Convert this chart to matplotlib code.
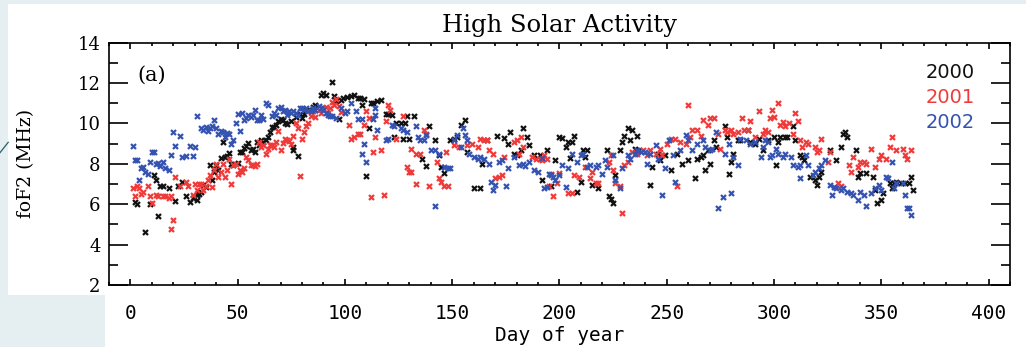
import matplotlib
matplotlib.use("Agg")
import matplotlib.pyplot as plt
from matplotlib.patches import Rectangle
from matplotlib.lines import Line2D
from matplotlib.ticker import MultipleLocator

# Colors
BLACK = "#111111"
RED = "#f03a3a"
BLUE = "#3452b0"
PAGE = "#e5eef1"

# Daily foF2 (MHz) at high solar activity
day_2000 = [2, 3, 7, 9, 11, 12, 13, 14, 15, 18,
            21, 22, 24, 26, 28, 29, 31, 31, 32, 33,
            34, 35, 37, 38, 39, 40, 41, 42, 43, 44,
            45, 46, 47, 48, 50, 51, 52, 53, 54, 55,
            56, 57, 58, 59, 60, 61, 62, 63, 64, 65,
            66, 67, 68, 69, 70, 71, 72, 73, 75, 76,
            76, 77, 78, 79, 80, 81, 82, 83, 85, 86,
            89, 90, 91, 94, 95, 96, 97, 98, 99, 101,
            103, 104, 106, 107, 108, 109, 110, 111, 112, 113,
            115, 117, 119, 120, 122, 123, 124, 126, 127, 128,
            129, 130, 132, 136, 138, 139, 142, 144, 145, 146,
            149, 151, 152, 154, 156, 157, 160, 163, 164, 166,
            171, 174, 176, 177, 179, 180, 182, 183, 185, 186,
            188, 191, 192, 194, 196, 198, 200, 201, 203, 204,
            205, 206, 207, 208, 210, 211, 212, 213, 215, 218,
            222, 223, 224, 225, 226, 228, 229, 230, 232, 233,
            234, 235, 236, 237, 242, 243, 246, 247, 249, 252,
            255, 257, 260, 263, 264, 266, 267, 268, 269, 270,
            272, 273, 277, 278, 279, 280, 281, 283, 284, 288,
            289, 291, 293, 295, 297, 300, 301, 302, 303, 305,
            306, 309, 310, 312, 313, 314, 317, 319, 320, 321,
            322, 326, 329, 331, 332, 333, 334, 338, 339, 340,
            343, 346, 347, 348, 350, 351, 354, 355, 356, 357,
            359, 361, 363, 364, 365]
fof2_2000 = [6.1, 6.0, 4.6, 6.0, 7.45, 7.2, 5.4, 6.9, 6.9, 6.8,
             6.15, 6.9, 7.1, 6.4, 6.1, 6.3, 6.2, 6.45, 6.5, 6.6,
             6.95, 6.85, 7.95, 7.2, 7.6, 7.95, 7.7, 8.3, 9.1, 8.35,
             8.4, 8.55, 8.0, 7.95, 8.05, 8.6, 8.6, 8.8, 8.9, 9.05,
             8.7, 8.75, 8.6, 9.1, 8.95, 9.2, 9.1, 9.2, 9.35, 9.6,
             9.8, 9.8, 9.9, 10.1, 10.2, 10.15, 10.0, 9.95, 10.1, 8.85,
             8.7, 10.3, 8.4, 10.45, 10.25, 10.45, 10.65, 10.65, 10.8, 10.9,
             11.4, 11.5, 11.4, 12.07, 11.35, 11.1, 10.2, 11.15, 11.25, 11.3,
             11.35, 11.4, 11.25, 11.25, 10.9, 11.2, 7.4, 9.75, 11.0, 11.0,
             11.1, 11.15, 10.45, 10.45, 10.4, 9.35, 10.0, 10.0, 9.25, 10.0,
             10.35, 9.25, 10.35, 8.25, 7.9, 9.85, 9.2, 8.45, 7.85, 7.55,
             9.2, 9.25, 9.35, 9.9, 10.15, 8.6, 6.8, 6.8, 8.0, 9.2,
             9.4, 9.3, 9.0, 9.6, 8.5, 8.45, 8.7, 9.75, 9.35, 8.95,
             8.45, 8.45, 7.2, 8.7, 6.9, 8.2, 9.35, 9.3, 8.85, 9.1,
             8.3, 9.1, 9.4, 6.6, 7.1, 8.7, 8.35, 8.7, 6.95, 6.8,
             8.7, 6.4, 6.25, 6.05, 7.45, 8.7, 9.1, 9.4, 9.75, 9.2,
             9.7, 8.75, 9.4, 8.7, 6.95, 7.85, 8.5, 8.2, 8.45, 7.7,
             8.5, 8.0, 8.2, 7.3, 8.25, 8.35, 8.45, 7.7, 8.7, 8.0,
             9.2, 8.85, 9.85, 9.35, 7.5, 8.1, 8.5, 9.2, 9.2, 9.7,
             9.1, 9.0, 9.25, 8.7, 9.2, 9.35, 7.95, 9.1, 9.35, 9.35,
             9.35, 9.85, 9.2, 8.45, 8.35, 8.2, 7.35, 7.2, 6.95, 7.35,
             7.6, 8.7, 8.2, 8.85, 9.5, 9.6, 9.35, 8.7, 7.35, 7.55,
             7.55, 7.35, 6.7, 6.05, 6.2, 6.55, 7.05, 6.8, 7.05, 7.1,
             7.05, 7.05, 7.05, 7.35, 6.7]

day_2001 = [1, 2, 3, 4, 5, 6, 8, 9, 10, 12,
            13, 15, 16, 18, 19, 19, 20, 21, 23, 26,
            27, 29, 30, 31, 32, 33, 34, 35, 36, 37,
            38, 39, 40, 41, 42, 43, 44, 45, 46, 47,
            48, 49, 50, 51, 52, 53, 54, 55, 56, 57,
            58, 59, 60, 61, 62, 63, 64, 65, 66, 67,
            68, 69, 70, 71, 72, 73, 74, 75, 76, 77,
            78, 79, 80, 81, 82, 83, 84, 85, 86, 88,
            89, 90, 91, 92, 93, 94, 95, 96, 97, 98,
            102, 103, 104, 106, 107, 109, 110, 111, 112, 113,
            114, 117, 118, 119, 120, 121, 124, 127, 129, 130,
            131, 131, 133, 133, 135, 137, 138, 139, 143, 144,
            145, 146, 147, 148, 151, 153, 157, 159, 162, 163,
            165, 166, 167, 169, 170, 172, 173, 174, 179, 180,
            181, 182, 183, 187, 189, 191, 192, 193, 194, 195,
            196, 197, 199, 200, 204, 206, 207, 209, 212, 214,
            215, 217, 218, 223, 224, 225, 226, 228, 229, 230,
            232, 234, 236, 239, 241, 242, 245, 247, 248, 250,
            252, 254, 255, 256, 259, 260, 261, 262, 264, 266,
            267, 269, 270, 272, 274, 275, 277, 278, 280, 281,
            283, 285, 286, 288, 289, 291, 293, 295, 296, 297,
            298, 299, 300, 302, 303, 304, 305, 307, 309, 310,
            311, 312, 313, 315, 316, 319, 320, 321, 322, 325,
            326, 330, 331, 335, 336, 337, 339, 340, 342, 343,
            345, 347, 349, 350, 352, 354, 355, 357, 360, 361,
            362, 364]
fof2_2001 = [6.8, 6.4, 6.9, 6.8, 6.5, 6.6, 6.9, 6.4, 6.05, 6.45,
             6.4, 6.4, 6.4, 6.3, 6.4, 4.75, 5.2, 7.35, 6.9, 7.1,
             6.9, 6.45, 7.0, 6.7, 7.0, 7.0, 6.7, 6.9, 7.2, 7.45,
             6.85, 7.7, 8.0, 7.35, 7.6, 8.0, 7.35, 7.7, 8.25, 7.0,
             7.95, 8.0, 7.5, 7.7, 7.6, 7.8, 8.35, 8.2, 7.95, 7.95,
             7.9, 8.0, 9.1, 8.85, 8.95, 8.5, 8.75, 8.95, 8.95, 8.85,
             9.1, 9.65, 8.7, 9.05, 9.25, 9.2, 9.15, 9.0, 9.4, 10.0,
             9.75, 7.4, 9.25, 9.6, 9.85, 10.0, 10.35, 10.6, 10.3, 10.65,
             10.5, 10.75, 10.8, 10.5, 10.75, 11.05, 10.9, 11.2, 10.85, 10.55,
             9.9, 9.25, 9.35, 9.5, 9.5, 9.9, 10.6, 10.25, 6.35, 8.6,
             9.35, 8.7, 6.45, 10.1, 10.9, 10.65, 9.25, 10.35, 7.85, 7.6,
             8.75, 7.6, 8.5, 7.0, 8.5, 9.7, 9.5, 6.9, 8.1, 7.3,
             7.1, 6.9, 8.6, 6.9, 8.95, 8.85, 8.95, 9.0, 8.85, 9.25,
             9.2, 9.2, 8.7, 8.5, 7.3, 7.35, 7.45, 8.35, 9.1, 9.2,
             8.5, 9.35, 8.85, 8.35, 8.25, 8.25, 8.2, 8.45, 8.25, 6.9,
             7.5, 6.4, 7.05, 7.55, 6.55, 6.55, 7.45, 7.35, 7.85, 7.3,
             7.6, 7.05, 7.05, 8.1, 8.45, 7.7, 7.05, 6.9, 5.55, 7.95,
             8.1, 8.6, 8.5, 8.7, 8.45, 8.7, 8.5, 8.75, 8.45, 9.0,
             9.25, 9.25, 6.9, 9.1, 9.0, 10.9, 9.35, 9.7, 9.7, 9.4,
             10.15, 9.9, 10.25, 10.25, 9.5, 8.75, 9.7, 9.6, 9.7, 9.5,
             9.6, 10.25, 9.7, 9.7, 10.1, 9.35, 10.6, 9.5, 9.7, 9.6,
             10.25, 10.65, 10.3, 11.0, 9.9, 10.05, 9.85, 10.0, 9.5, 10.5,
             10.1, 9.2, 8.85, 9.1, 9.0, 8.85, 8.6, 8.7, 9.25, 8.1,
             8.6, 7.05, 6.9, 7.95, 7.6, 8.35, 7.85, 8.1, 8.1, 8.0,
             8.75, 7.85, 8.25, 8.45, 8.25, 8.85, 9.35, 8.7, 8.75, 8.45,
             8.25, 8.7]

day_2002 = [1, 2, 3, 4, 5, 6, 7, 8, 9, 10,
            11, 12, 13, 14, 15, 16, 18, 19, 20, 21,
            23, 24, 26, 28, 29, 30, 31, 33, 34, 35,
            36, 37, 38, 39, 40, 41, 42, 43, 44, 45,
            46, 47, 48, 49, 50, 51, 52, 53, 54, 55,
            56, 57, 58, 59, 60, 61, 62, 63, 64, 66,
            67, 68, 69, 70, 71, 72, 73, 74, 75, 76,
            77, 78, 79, 80, 81, 82, 83, 84, 85, 86,
            88, 89, 90, 91, 92, 93, 94, 96, 98, 100,
            101, 103, 105, 106, 108, 108, 109, 110, 113, 114,
            114, 115, 119, 120, 122, 123, 126, 127, 129, 133,
            134, 135, 137, 138, 140, 142, 142, 144, 146, 148,
            149, 151, 152, 154, 155, 156, 157, 158, 160, 162,
            163, 165, 167, 168, 169, 170, 172, 173, 175, 176,
            179, 181, 183, 184, 186, 188, 190, 192, 193, 194,
            195, 196, 197, 198, 200, 201, 203, 204, 206, 208,
            210, 211, 213, 214, 217, 218, 220, 221, 222, 225,
            226, 228, 229, 232, 233, 235, 236, 238, 240, 241,
            242, 245, 246, 248, 249, 251, 253, 254, 256, 259,
            260, 262, 264, 267, 268, 270, 271, 273, 274, 276,
            277, 279, 280, 281, 283, 284, 287, 289, 291, 294,
            295, 296, 297, 298, 299, 301, 302, 304, 305, 308,
            309, 311, 312, 312, 315, 316, 318, 319, 321, 322,
            324, 326, 327, 328, 329, 331, 332, 334, 336, 337,
            339, 340, 342, 343, 345, 347, 349, 350, 352, 353,
            355, 356, 357, 360, 361, 362, 363, 364]
fof2_2002 = [8.9, 8.2, 8.2, 7.2, 7.8, 7.85, 7.6, 7.5, 8.1, 8.6,
             8.6, 8.0, 8.05, 7.9, 8.1, 7.8, 7.7, 8.45, 9.6, 8.9,
             9.4, 8.35, 8.4, 8.9, 8.4, 8.85, 10.35, 9.75, 9.7, 9.8,
             9.65, 9.75, 9.85, 10.15, 9.75, 9.5, 9.65, 9.6, 9.35, 9.55,
             9.5, 9.0, 9.2, 10.0, 10.45, 9.65, 10.5, 10.15, 10.25, 10.4,
             10.3, 10.4, 10.65, 10.15, 10.15, 10.4, 10.2, 11.0, 10.9, 10.35,
             10.5, 10.4, 10.75, 10.8, 10.6, 10.65, 10.4, 10.6, 10.5, 10.6,
             10.5, 10.4, 10.75, 10.75, 10.65, 10.75, 10.6, 10.6, 10.75, 10.65,
             10.85, 10.75, 10.65, 10.5, 10.4, 10.35, 10.35, 10.25, 10.75, 10.5,
             10.6, 11.0, 10.6, 10.2, 10.2, 8.5, 9.0, 8.1, 10.2, 10.4,
             10.75, 9.7, 9.2, 9.25, 9.9, 9.85, 9.75, 9.7, 9.6, 9.85,
             9.35, 9.2, 9.2, 9.45, 8.7, 8.7, 5.9, 8.5, 7.85, 7.8,
             7.8, 9.2, 9.45, 8.85, 9.75, 9.45, 9.2, 8.5, 8.35, 8.25,
             8.35, 8.25, 8.0, 7.1, 6.7, 6.95, 8.1, 8.2, 6.9, 7.8,
             8.35, 7.95, 8.0, 7.9, 8.1, 7.7, 7.6, 8.3, 6.8, 6.85,
             7.5, 7.45, 7.35, 7.2, 7.45, 7.95, 6.85, 7.8, 8.5, 8.1,
             8.45, 8.5, 7.85, 7.95, 7.85, 7.95, 7.5, 8.2, 7.85, 8.45,
             7.2, 6.8, 7.8, 8.45, 8.25, 8.5, 8.7, 8.6, 8.6, 8.0,
             8.5, 8.95, 8.25, 6.45, 7.8, 9.2, 8.45, 7.1, 8.7, 9.45,
             9.2, 8.7, 9.0, 9.2, 8.85, 8.7, 8.75, 9.6, 5.8, 6.35,
             8.5, 9.0, 6.55, 8.35, 7.95, 9.25, 9.2, 9.0, 9.1, 8.35,
             8.85, 9.2, 9.1, 8.35, 8.45, 8.75, 8.5, 8.35, 8.5, 8.35,
             7.95, 7.85, 7.95, 7.3, 8.45, 7.95, 7.45, 7.6, 7.8, 7.95,
             8.2, 6.95, 6.45, 6.85, 6.8, 6.7, 6.8, 6.6, 6.55, 6.45,
             6.2, 6.6, 6.45, 5.9, 6.55, 6.8, 6.95, 6.7, 7.35, 7.3,
             8.1, 6.8, 7.05, 7.05, 6.45, 5.8, 5.8, 5.45]

years = ["2000", "2001", "2002"]
colors = [BLACK, RED, BLUE]

fig = plt.figure(figsize=(10.26, 3.47), dpi=100)

# page background behind the figure
for x0, y0, w, h in [(0, 0, 0.008, 1), (0, 0, 0.102, 0.15), (0, 0.988, 1, 0.012)]:
    fig.add_artist(Rectangle((x0, y0), w, h, transform=fig.transFigure,
                             facecolor=PAGE, edgecolor="none", zorder=-5))
fig.add_artist(Line2D([0, 0.008], [0.56, 0.59], transform=fig.transFigure,
                      color="#2b5e6e", lw=0.9))

ax = fig.add_axes([0.1062, 0.1787, 0.8782, 0.6983])

for d, v, c in zip([day_2000, day_2001, day_2002],
                   [fof2_2000, fof2_2001, fof2_2002], colors):
    ax.plot(d, v, linestyle="none", marker="x", ms=3.6, mew=1.6, color=c)

ax.set_xlim(-10, 410)
ax.set_ylim(2, 14)
ax.xaxis.set_major_locator(MultipleLocator(50))
ax.xaxis.set_minor_locator(MultipleLocator(10))
ax.yaxis.set_major_locator(MultipleLocator(2))
ax.yaxis.set_minor_locator(MultipleLocator(1))

ax.tick_params(axis="both", which="both", direction="in", top=True, right=True, width=1.2)
ax.tick_params(axis="x", which="major", length=4, pad=14)
ax.tick_params(axis="x", which="minor", length=2.4)
ax.tick_params(axis="y", which="major", length=13.5, pad=6)
ax.tick_params(axis="y", which="minor", length=6.5)
for sp in ax.spines.values():
    sp.set_linewidth(1.2)

for lab in ax.get_yticklabels():
    lab.set_fontfamily("DejaVu Serif")
    lab.set_fontsize(13)
for lab in ax.get_xticklabels():
    lab.set_fontfamily("DejaVu Sans Mono")
    lab.set_fontsize(14)

ax.set_title("High Solar Activity", family="DejaVu Serif", fontsize=17.5, pad=8)
ax.set_xlabel("Day of year", family="DejaVu Sans Mono", fontsize=14, labelpad=2)
ax.set_ylabel("foF2 (MHz)", family="DejaVu Serif", fontsize=13.5)
ax.yaxis.set_label_coords(-0.082, 0.5)

ax.text(0.031, 0.867, "(a)", transform=ax.transAxes, family="DejaVu Serif",
        fontsize=15, va="center", ha="left")
for i, (yr, c) in enumerate(zip(years, colors)):
    ax.text(0.961, 0.875 - 0.103 * i, yr, transform=ax.transAxes, color=c,
            fontsize=14, va="center", ha="right")

fig.savefig("out.png", dpi=100)
